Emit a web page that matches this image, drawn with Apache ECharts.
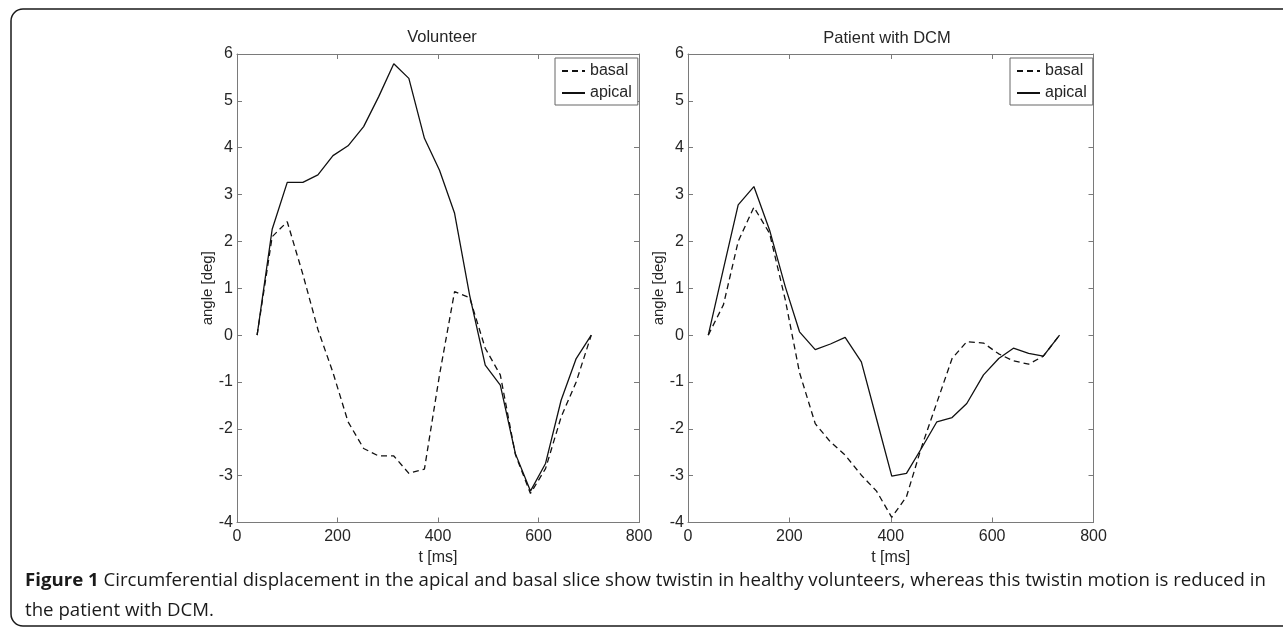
<!DOCTYPE html>
<html>
<head>
<meta charset="utf-8">
<script src="https://cdn.jsdelivr.net/npm/echarts@6/dist/echarts.min.js"></script>
<style>
  html, body { margin: 0; padding: 0; background: #fff; }
  #main { width: 1283px; height: 629px; }
</style>
</head>
<body>
<div id="main"></div>
<script>
// Volunteer
var volT = [40, 70, 100, 131, 161, 191, 221, 252, 282, 312, 342, 373, 403, 433, 463, 494, 524, 554, 584, 614, 645, 675, 705];
var volBasal = [0, 2.1, 2.42, 1.3, 0.12, -0.8, -1.85, -2.42, -2.58, -2.58, -2.95, -2.86, -0.85, 0.93, 0.8, -0.28, -0.85, -2.55, -3.38, -2.85, -1.75, -1.0, 0];
var volApical = [0, 2.26, 3.26, 3.26, 3.42, 3.83, 4.04, 4.45, 5.09, 5.79, 5.48, 4.2, 3.52, 2.6, 0.85, -0.64, -1.07, -2.53, -3.33, -2.74, -1.39, -0.5, 0];

// Patient with DCM
var patT = [40, 70, 99, 130, 161, 192, 220, 251, 281, 310, 342, 372, 402, 431, 461, 491, 521, 550, 583, 613, 642, 672, 701, 733];
var patBasal = [0, 0.65, 2.0, 2.73, 2.17, 0.75, -0.8, -1.89, -2.28, -2.56, -2.99, -3.33, -3.89, -3.45, -2.38, -1.44, -0.5, -0.14, -0.17, -0.4, -0.55, -0.62, -0.45, 0];
var patApical = [0, 1.42, 2.78, 3.17, 2.24, 1.03, 0.07, -0.31, -0.19, -0.05, -0.57, -1.79, -3.01, -2.95, -2.41, -1.85, -1.76, -1.46, -0.85, -0.5, -0.28, -0.39, -0.45, 0];

var titles = ['Volunteer', 'Patient with DCM'];
var legendNames = ['basal', 'apical'];
var xName = 't [ms]';
var yName = 'angle [deg]';
var captionBold = 'Figure 1';
var caption1 = 'Circumferential displacement in the apical and basal slice show twistin in healthy volunteers, whereas this twistin motion is reduced in';
var caption2 = 'the patient with DCM.';

var font = '"Liberation Sans", Arial, sans-serif';
var capFont = '"Open Sans", sans-serif';
var boxColor = '#7a7a7a';
var textColor = '#262626';
var lineColor = '#111';

// caption size so that the first line ends near the right edge like the figure
var ctx = document.createElement('canvas').getContext('2d');
ctx.font = 'bold 20px ' + capFont;
var wb = ctx.measureText(captionBold).width;
ctx.font = '20px ' + capFont;
var wr = ctx.measureText(' ' + caption1).width;
var capSize = Math.min(20, 20 * 1242 / (wb + wr));

function pairs(xs, ys) {
  return xs.map(function (x, i) { return [x, ys[i]]; });
}

// one axis of the matlab style box; main ones carry labels
function axis(gi, pos, main, isX) {
  var a = {
    type: 'value', gridIndex: gi, position: pos,
    min: isX ? 0 : -4, max: isX ? 800 : 6, interval: isX ? 200 : 1,
    axisLine: { show: true, onZero: false, lineStyle: { color: boxColor, width: 1 } },
    axisTick: { show: true, inside: true, length: 5, lineStyle: { color: boxColor } },
    axisLabel: { show: main, color: textColor, fontSize: 16, fontFamily: font, margin: isX ? 6 : 4 },
    splitLine: { show: false }
  };
  if (main) {
    a.name = isX ? xName : yName;
    a.nameLocation = 'middle';
    a.nameGap = isX ? 21 : 22;
    a.nameTextStyle = { color: textColor, fontSize: isX ? 16 : 15, fontFamily: font };
  }
  return a;
}

function line(name, gi, data, dashed) {
  return {
    name: name, type: 'line', xAxisIndex: gi, yAxisIndex: gi,
    data: data, symbol: 'none', showSymbol: false, silent: true,
    lineStyle: { color: lineColor, width: 1.3, type: dashed ? [6, 4] : 'solid' },
    itemStyle: { color: lineColor }
  };
}

function legend(left) {
  return {
    data: legendNames, orient: 'vertical', left: left, top: 58,
    padding: [5, 6, 4, 6], itemGap: 6, itemWidth: 23, itemHeight: 10,
    borderColor: '#666', borderWidth: 1, backgroundColor: '#fff',
    selectedMode: false,
    itemStyle: { opacity: 0 },
    textStyle: { fontSize: 16, fontFamily: font, color: textColor, lineHeight: 16 }
  };
}

var chart = echarts.init(document.getElementById('main'));
chart.setOption({
  animation: false,
  backgroundColor: '#fff',
  title: [
    { text: titles[0], left: 437, top: 24, textAlign: 'center',
      textStyle: { fontSize: 16.5, fontWeight: 'normal', fontFamily: font, color: textColor } },
    { text: titles[1], left: 882, top: 25, textAlign: 'center',
      textStyle: { fontSize: 16.5, fontWeight: 'normal', fontFamily: font, color: textColor } }
  ],
  legend: [legend(555), legend(1010)],
  grid: [
    { left: 237, top: 54, width: 402, height: 468.5 },
    { left: 688, top: 54, width: 405.5, height: 468.5 }
  ],
  xAxis: [axis(0, 'bottom', true, true), axis(1, 'bottom', true, true),
          axis(0, 'top', false, true), axis(1, 'top', false, true)],
  yAxis: [axis(0, 'left', true, false), axis(1, 'left', true, false),
          axis(0, 'right', false, false), axis(1, 'right', false, false)],
  series: [
    line('basal', 0, pairs(volT, volBasal), true),
    line('apical', 0, pairs(volT, volApical), false),
    line('basal', 1, pairs(patT, patBasal), true),
    line('apical', 1, pairs(patT, patApical), false)
  ],
  graphic: [
    { type: 'rect', shape: { x: 11, y: 9, width: 1300, height: 617, r: 12 },
      style: { fill: 'none', stroke: '#1a1a1a', lineWidth: 1.5 }, silent: true },
    { type: 'text', x: 25, y: 566, silent: true,
      style: {
        text: '{b|' + captionBold + '} ' + caption1 + '\n' + caption2,
        font: capSize + 'px ' + capFont, fill: '#1a1a1a', lineHeight: 30, verticalAlign: 'top',
        rich: { b: { fontWeight: 'bold', fontSize: capSize, fontFamily: capFont, lineHeight: 30 } }
      } }
  ]
});
</script>
</body>
</html>
